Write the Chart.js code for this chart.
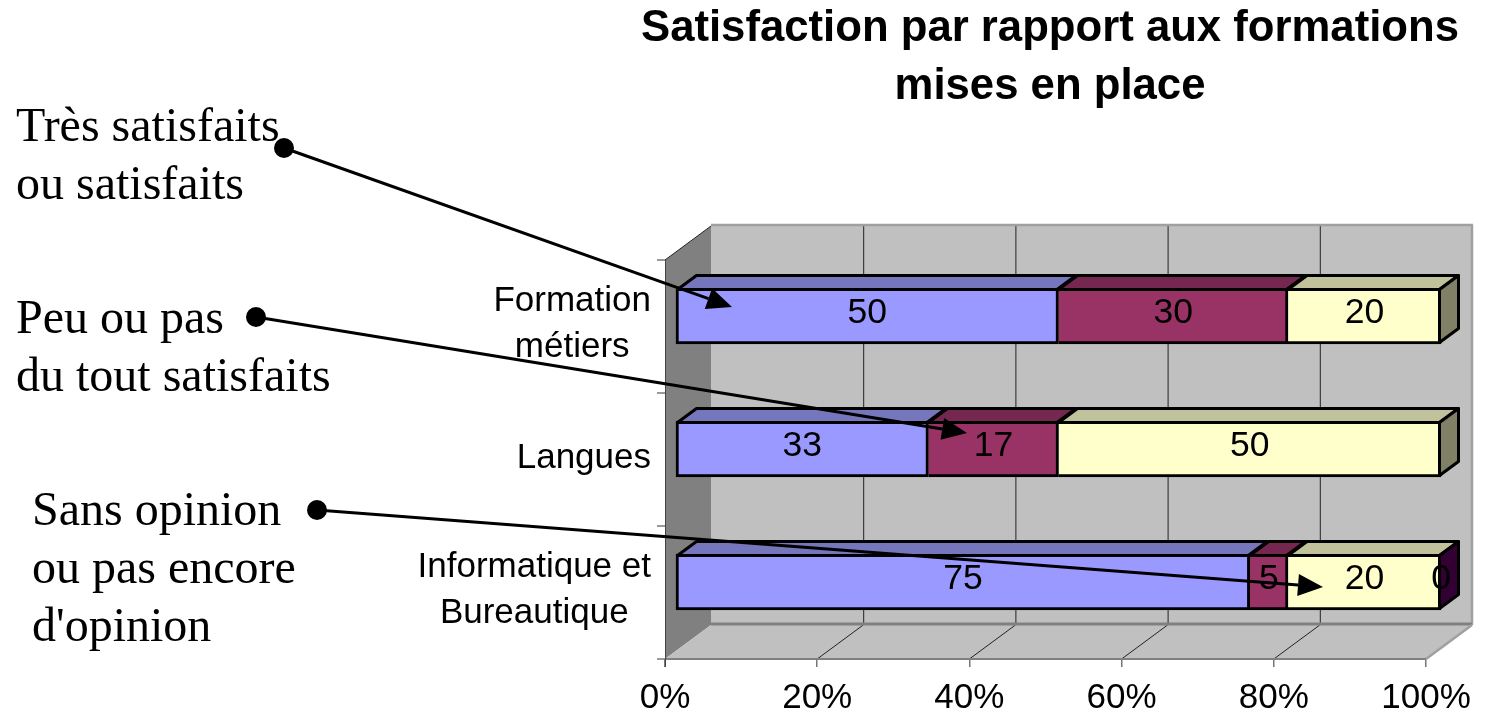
<!DOCTYPE html>
<html lang="fr">
<head>
<meta charset="utf-8">
<style>html,body{margin:0;padding:0;background:#fff}canvas{display:block}</style>
<script src="https://cdn.jsdelivr.net/npm/chart.js@4"></script>
</head>
<body>
<canvas id="c" width="1486" height="717"></canvas>
<script>
const categories = [["Formation","métiers"],["Langues"],["Informatique et","Bureautique"]];
const tresSatisfaits = [50,33,75];
const peuSatisfaits = [30,17,5];
const sansOpinion = [20,50,20];
const autres = [null,null,0];
const titleLines = ["Satisfaction par rapport aux formations","mises en place"];
const xTicks = [0,20,40,60,80,100];
const callouts = [
  {lines:["Très satisfaits","ou satisfaits"],tx:16,ty:141,dot:[284,148],tip:[732,307]},
  {lines:["Peu ou pas","du tout satisfaits"],tx:16,ty:333,dot:[256,317],tip:[967,433]},
  {lines:["Sans opinion","ou pas encore","d'opinion"],tx:32,ty:525,dot:[317,510],tip:[1323,587]}
];
const SANS="'Liberation Sans',Arial,sans-serif", SERIF="'Liberation Serif','Times New Roman',serif";
const box={barsL:676,barsR:1441,barsT:249.5,barsB:648.5,axL:665,axR:1426,floor:659};
const wall={dx:46,dy:-34}, barDepth={dx:19,dy:-14};
const sideColors=[["#7676BC","#4D4D80"],["#76274F","#4D1A33"],["#C1C19B","#808066"],["#4D004D","#330033"]];

function poly(ctx,pts,fill,stroke,lw){
  ctx.beginPath();pts.forEach((p,i)=>i?ctx.lineTo(p[0],p[1]):ctx.moveTo(p[0],p[1]));ctx.closePath();
  if(fill){ctx.fillStyle=fill;ctx.fill();}
  if(stroke){ctx.strokeStyle=stroke;ctx.lineWidth=lw;ctx.lineJoin="round";ctx.stroke();}
}
function seg(ctx,x1,y1,x2,y2,c,lw){ctx.beginPath();ctx.moveTo(x1,y1);ctx.lineTo(x2,y2);ctx.strokeStyle=c;ctx.lineWidth=lw;ctx.stroke();}

const layoutFix={id:"layoutFix",afterLayout(chart){
  const s=chart.scales;
  const set=(sc,l,r,t,b)=>{sc.left=l;sc.right=r;sc.top=t;sc.bottom=b;sc.width=r-l;sc.height=b-t;sc.configure();};
  set(s.x,box.barsL,box.barsR,box.barsT,box.barsB);
  set(s.y,box.barsL,box.barsR,box.barsT,box.barsB);
  set(s.xAxis,box.axL,box.axR,box.floor,717);
  chart.chartArea={left:box.barsL,right:box.barsR,top:box.barsT,bottom:box.barsB,width:box.barsR-box.barsL,height:box.barsB-box.barsT};
  const t=chart.titleBlock;t.left=641;t.right=1459;t.width=818;t.top=0;t.bottom=113;t.height=113;
}};

const scene={id:"scene",
 beforeDatasetsDraw(chart){
  const c=chart.ctx,ax=chart.scales.xAxis,{dx,dy}=wall,f=box.floor;
  const L=ax.getPixelForValue(0),R=ax.getPixelForValue(100);
  const band=(chart.scales.y.bottom-chart.scales.y.top)/categories.length;
  const wallTop=f-band*categories.length;
  c.save();
  poly(c,[[L+dx,wallTop+dy],[R+dx,wallTop+dy],[R+dx,f+dy],[L+dx,f+dy]],"#C0C0C0");
  poly(c,[[L,wallTop],[L+dx,wallTop+dy],[L+dx,f+dy],[L,f]],"#808080");
  poly(c,[[L,f],[L+dx,f+dy],[R+dx,f+dy],[R,f]],"#C0C0C0");
  xTicks.slice(1,-1).forEach(v=>{
    const x=ax.getPixelForValue(v);
    seg(c,x+dx+.5,wallTop+dy,x+dx+.5,f+dy,"#222",1);
    seg(c,x,f,x+dx,f+dy,"#222",1);
  });
  seg(c,L+dx,wallTop+dy-1,R+dx+1,wallTop+dy-1,"#A0A0A0",2.5);
  seg(c,R+dx,wallTop+dy-1,R+dx,f+dy,"#A0A0A0",2.5);
  seg(c,L+dx,f+dy-1,R+dx,f+dy-1,"#808080",3);
  seg(c,R+dx,f+dy,R,f,"#A0A0A0",2.5);
  seg(c,L,f,R,f,"#808080",2);
  seg(c,L,wallTop,L+dx,wallTop+dy,"#222",1);
  seg(c,L+.5,wallTop,L+.5,f+8,"#444",1);
  for(let i=0;i<=categories.length;i++){const y=f-band*i;seg(c,L-8,y,L,y,"#777",1.5);}
  c.restore();
 },
 afterDatasetsDraw(chart){
  const c=chart.ctx,{dx,dy}=barDepth,sets=chart.data.datasets;
  c.save();
  sets.forEach((ds,di)=>{
    chart.getDatasetMeta(di).data.forEach((b,i)=>{
      if(ds.data[i]===null)return;
      const t=b.y-b.height/2+1.5,bt=b.y+b.height/2-1.5,l=b.base+(b.base<=box.barsL?1.5:0),r=b.x-1.5;
      const isLast=!sets.slice(di+1).some(o=>o.data[i]!==null);
      if(ds.data[i]>0)poly(c,[[l,t],[l+dx,t+dy],[r+dx,t+dy],[r,t]],sideColors[di][0],"#000",3);
      if(isLast)poly(c,[[r,t],[r+dx,t+dy],[r+dx,bt+dy],[r,bt]],sideColors[di][1],"#000",3);
    });
  });
  sets.forEach((ds,di)=>{
    chart.getDatasetMeta(di).data.forEach((b,i)=>{
      if(ds.data[i]===null)return;
      c.fillStyle="#000";c.font="35.5px "+SANS;c.textAlign="center";c.textBaseline="middle";
      c.fillText(String(ds.data[i]),(b.x+b.base)/2,b.y-2.5);
    });
  });
  const y=chart.scales.y;
  categories.forEach((lines,i)=>{
    const cy=y.getPixelForValue(i)+(lines.length>1?8:9);
    c.font="35px "+SANS;
    const w=Math.max(...lines.map(t=>c.measureText(t).width));
    lines.forEach((t,k)=>{
      c.textAlign="center";c.textBaseline="middle";c.fillStyle="#000";
      c.fillText(t,651-w/2,cy+(k-(lines.length-1)/2)*46);
    });
  });
  callouts.forEach(o=>{
    c.font="48px "+SERIF;c.textAlign="left";c.textBaseline="alphabetic";c.fillStyle="#000";
    o.lines.forEach((t,k)=>c.fillText(t,o.tx,o.ty+k*58));
    const [x1,y1]=o.dot,[x2,y2]=o.tip,a=Math.atan2(y2-y1,x2-x1),len=25,hw=11;
    const bx=x2-len*Math.cos(a),by=y2-len*Math.sin(a);
    seg(c,x1,y1,bx,by,"#000",3);
    c.beginPath();c.arc(x1,y1,10,0,Math.PI*2);c.fillStyle="#000";c.fill();
    poly(c,[[x2,y2],[bx+hw*Math.sin(a),by-hw*Math.cos(a)],[bx-hw*Math.sin(a),by+hw*Math.cos(a)]],"#000");
  });
  c.restore();
 }
};

const mk=(label,data,color,skip)=>({label,data,backgroundColor:color,borderColor:"#000",borderWidth:3,borderSkipped:skip,barThickness:56,xAxisID:"x",yAxisID:"y",clip:false});
new Chart(document.getElementById("c"),{
  type:"bar",
  data:{labels:categories,datasets:[
    mk("Très satisfaits ou satisfaits",tresSatisfaits,"#9999FF",false),
    mk("Peu ou pas du tout satisfaits",peuSatisfaits,"#993366","left"),
    mk("Sans opinion ou pas encore d'opinion",sansOpinion,"#FFFFCC","left"),
    mk("Autres",autres,"#660066","left")
  ]},
  options:{
    indexAxis:"y",responsive:false,animation:false,devicePixelRatio:1,
    events:[],
    scales:{
      x:{type:"linear",stacked:true,min:0,max:100,display:false},
      y:{type:"category",stacked:true,display:false},
      xAxis:{type:"linear",axis:"x",position:"bottom",min:0,max:100,
        afterBuildTicks(s){s.ticks=xTicks.map(v=>({value:v}));},
        border:{display:false},
        grid:{drawOnChartArea:false,drawTicks:true,tickLength:8,color:"#777",lineWidth:1.5},
        ticks:{color:"#000",autoSkip:false,maxRotation:0,padding:10,font:{family:SANS,size:35},callback:v=>v+"%"}
      }
    },
    plugins:{
      legend:{display:false},tooltip:{enabled:false},
      title:{display:true,text:titleLines,color:"#000",padding:{top:0,bottom:0},
        font:{family:SANS,size:43.7,weight:"bold",lineHeight:1.327}}
    }
  },
  plugins:[layoutFix,scene]
});
</script>
</body>
</html>
